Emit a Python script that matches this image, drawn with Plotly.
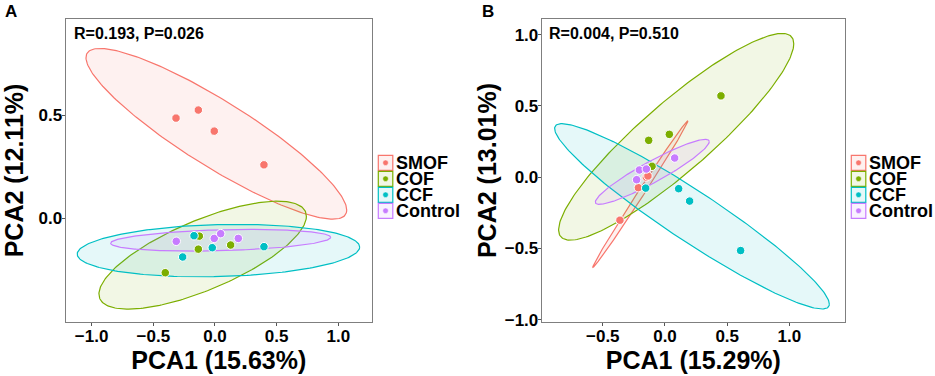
import numpy as np
import plotly.graph_objects as go

W, H = 935, 376

groups = ["SMOF", "COF", "CCF", "Control"]
colors = ["#F8766D", "#7CAE00", "#00BFC4", "#C77CFF"]

# ---- Panel A points (PCA1, PCA2) ----
a_x = {
    "SMOF": [-0.316, -0.135, -0.006, 0.397],
    "COF": [-0.127, -0.135, 0.127, -0.403],
    "CCF": [-0.170, -0.022, -0.262, 0.397],
    "Control": [-0.314, -0.006, 0.046, 0.189],
}
a_y = {
    "SMOF": [0.485, 0.524, 0.422, 0.259],
    "COF": [-0.086, -0.149, -0.129, -0.263],
    "CCF": [-0.084, -0.142, -0.187, -0.137],
    "Control": [-0.111, -0.097, -0.074, -0.097],
}
# ---- Panel B points ----
b_x = {
    "SMOF": [-0.362, -0.214, -0.150, -0.137],
    "COF": [0.450, 0.035, -0.131, -0.104],
    "CCF": [0.110, 0.198, 0.608, -0.155],
    "Control": [-0.206, -0.150, -0.228, 0.078],
}
b_y = {
    "SMOF": [-0.302, -0.074, 0.000, 0.008],
    "COF": [0.570, 0.300, 0.258, 0.076],
    "CCF": [-0.081, -0.168, -0.515, -0.077],
    "Control": [0.050, 0.057, -0.018, 0.134],
}

# ---- confidence ellipses (centre, half-extents, correlation) ----
ell_a_cx = [0.011, -0.100, 0.028, 0.046]
ell_a_cy = [0.409, -0.178, -0.156, -0.106]
ell_a_hx = [1.057, 0.841, 1.145, 0.892]
ell_a_hy = [0.413, 0.261, 0.127, 0.0525]
ell_a_rho = [-0.893, 0.72, 0.133, 0.27]

ell_b_cx = [-0.198, 0.090, 0.217, -0.102]
ell_b_cy = [-0.119, 0.283, -0.275, 0.037]
ell_b_hx = [0.382, 0.945, 1.104, 0.458]
ell_b_hy = [0.513, 0.725, 0.650, 0.228]
ell_b_rho = [0.997, 0.90, -0.947, 0.93]

stats_text = ["R=0.193, P=0.026", "R=0.004, P=0.510"]
x_titles = ["PCA1 (15.63%)", "PCA1 (15.29%)"]
y_titles = ["PCA2 (12.11%)", "PCA2 (13.01%)"]
panel_labels = ["A", "B"]


def rgba(hexc, a):
    h = hexc.lstrip("#")
    r, g, b = int(h[0:2], 16), int(h[2:4], 16), int(h[4:6], 16)
    return f"rgba({r},{g},{b},{a})"


def ellipse(cx, cy, hx, hy, rho, n=240):
    t = np.linspace(0, 2 * np.pi, n)
    x = cx + hx * np.cos(t)
    y = cy + hy * (rho * np.cos(t) + np.sqrt(1 - rho ** 2) * np.sin(t))
    return x, y


fig = go.Figure()

panels = [
    ("x", "y", a_x, a_y, ell_a_cx, ell_a_cy, ell_a_hx, ell_a_hy, ell_a_rho),
    ("x2", "y2", b_x, b_y, ell_b_cx, ell_b_cy, ell_b_hx, ell_b_hy, ell_b_rho),
]

for xa, ya, px, py, ecx, ecy, ehx, ehy, erho in panels:
    for i, g in enumerate(groups):
        ex, ey = ellipse(ecx[i], ecy[i], ehx[i], ehy[i], erho[i])
        fig.add_trace(go.Scatter(
            x=ex, y=ey, mode="lines", fill="toself",
            fillcolor=rgba(colors[i], 0.10),
            line=dict(color=colors[i], width=1.2),
            xaxis=xa, yaxis=ya, showlegend=False, hoverinfo="skip", name=g))
    for i, g in enumerate(groups):
        fig.add_trace(go.Scatter(
            x=px[g], y=py[g], mode="markers",
            marker=dict(size=8.5, color=colors[i], line=dict(color="white", width=1)),
            xaxis=xa, yaxis=ya, showlegend=False, name=g))

# plot areas in pixels
pA = dict(l=65.5, r=372.0, t=19.3, b=321.7)
pB = dict(l=541.7, r=845.0, t=19.3, b=321.7)

FONT = "Liberation Sans, Arial"
tickfont = dict(family=FONT, size=17, color="black", weight="bold")
titlefont = dict(family=FONT, size=25, color="black", weight="bold")

common_axis = dict(showgrid=False, zeroline=False, showline=True, mirror=True,
                   linecolor="#7f7f7f", linewidth=1, ticks="outside", ticklen=3,
                   tickcolor="#555555", tickwidth=1, tickfont=tickfont, tickformat=".1f",
                   automargin=False)

fig.update_layout(
    template="none",
    width=W, height=H, margin=dict(l=0, r=0, t=0, b=0, autoexpand=False),
    paper_bgcolor="white", plot_bgcolor="white",
    xaxis=dict(domain=[pA["l"] / W, pA["r"] / W], range=[-1.212, 1.273],
               tickvals=[-1, -0.5, 0, 0.5, 1], anchor="y", ticklabelstandoff=-4,
               title=dict(text=x_titles[0], font=titlefont, standoff=0), **common_axis),
    yaxis=dict(domain=[1 - pA["b"] / H, 1 - pA["t"] / H], range=[-0.500, 0.963],
               tickvals=[0, 0.5], anchor="x", ticklabelstandoff=-4,
               title=dict(text=y_titles[0], font=titlefont, standoff=7), **common_axis),
    xaxis2=dict(domain=[pB["l"] / W, pB["r"] / W], range=[-0.991, 1.447],
                tickvals=[-0.5, 0, 0.5, 1], anchor="y2", ticklabelstandoff=-4,
                title=dict(text=x_titles[1], font=titlefont, standoff=0), **common_axis),
    yaxis2=dict(domain=[1 - pB["b"] / H, 1 - pB["t"] / H], range=[-1.014, 1.107],
                tickvals=[-1, -0.5, 0, 0.5, 1], anchor="x2", ticklabelstandoff=-4,
                title=dict(text=y_titles[1], font=titlefont, standoff=0), **common_axis),
)

annots = []
shapes = []
for k, (p, xr, yr) in enumerate([(pA, "x", "y"), (pB, "x2", "y2")]):
    annots.append(dict(text=stats_text[k], xref=f"{xr} domain", yref=f"{yr} domain",
                       x=(6.5 if k == 0 else 5.3) / (p["r"] - p["l"]),
                       y=(p["b"] - 34) / (p["b"] - p["t"]),
                       xanchor="left", yanchor="middle", showarrow=False,
                       font=dict(family=FONT, size=16, color="black", weight="bold")))
    annots.append(dict(text=panel_labels[k], xref="paper", yref="paper",
                       x=(3 if k == 0 else 480) / W, y=1 - 12 / H,
                       xanchor="left", yanchor="middle", showarrow=False,
                       font=dict(family=FONT, size=17, color="black", weight="bold")))
    # legend (drawn manually: outlined key box with a dot)
    kx0 = p["r"] + 6.3
    for i, g in enumerate(groups):
        yc = 162.8 + 16.0 * i
        shapes.append(dict(type="rect", xref="paper", yref="paper",
                           x0=kx0 / W, x1=(kx0 + 14.5) / W,
                           y0=1 - (yc - 7.5) / H, y1=1 - (yc + 7.5) / H,
                           line=dict(color=colors[i], width=1.2),
                           fillcolor=rgba(colors[i], 0.10)))
        shapes.append(dict(type="circle", xref="paper", yref="paper",
                           x0=(kx0 + 7.25 - 2.8) / W, x1=(kx0 + 7.25 + 2.8) / W,
                           y0=1 - (yc - 2.8) / H, y1=1 - (yc + 2.8) / H,
                           line=dict(color="white", width=0.5), fillcolor=colors[i]))
        annots.append(dict(text=g, xref="paper", yref="paper",
                           x=(kx0 + 17) / W, y=1 - yc / H, xanchor="left", yanchor="middle",
                           showarrow=False, height=16, borderpad=0,
                           font=dict(family=FONT, size=18, color="black", weight="bold")))

fig.update_layout(annotations=annots, shapes=shapes)

fig.write_html("out.html", config={"displayModeBar": False},
               post_script="document.body.style.margin='0px';document.body.style.padding='0px';")
